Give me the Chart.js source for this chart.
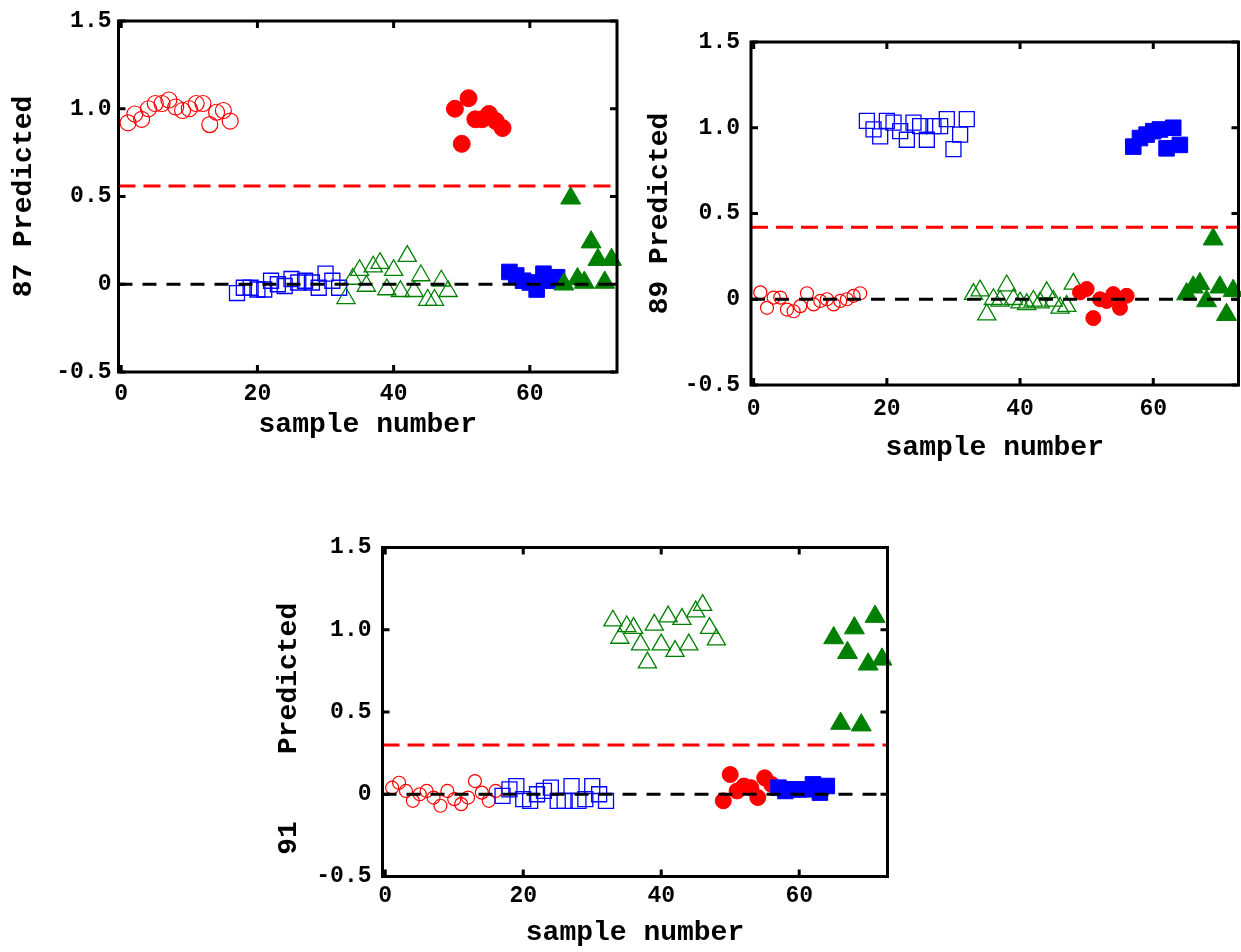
<!DOCTYPE html>
<html>
<head>
<meta charset="utf-8">
<script src="https://cdn.jsdelivr.net/npm/chart.js@4.4.0/dist/chart.umd.min.js"></script>
<style>
html,body{margin:0;padding:0;background:#ffffff;overflow:hidden;width:1241px;height:952px;position:relative;}
canvas{position:absolute;}
</style>
</head>
<body>
<canvas id="c87" width="630" height="445" style="left:0px;top:0px;width:630px;height:445px"></canvas>
<canvas id="c89" width="611" height="470" style="left:640px;top:0px;width:611px;height:470px"></canvas>
<canvas id="c91" width="630" height="432" style="left:270px;top:520px;width:630px;height:432px"></canvas>
<script>
// ---------- axis / tick definitions ----------
const xTicks = [0, 20, 40, 60];
const yTicks = [-0.5, 0, 0.5, 1.0, 1.5];
const xMin = -0.4, xMax = 72.8;
const yMin = -0.5, yMax = 1.5;
const xTitle = 'sample number';
const zeroLine = 0;

// ---------- sample numbers of each group ----------
const samplesRedOpen    = [1,2,3,4,5,6,7,8,9,10,11,12,13,14,15,16];
const samplesBlueOpen   = [17,18,19,20,21,22,23,24,25,26,27,28,29,30,31,32];
const samplesGreenOpen  = [33,34,35,36,37,38,39,40,41,42,43,44,45,46,47,48];
const samplesRedFilled  = [49,50,51,52,53,54,55,56];
const samplesBlueFilled = [57,58,59,60,61,62,63,64];
const samplesGreenFilled= [65,66,67,68,69,70,71,72];

// ---------- chart "87" ----------
const title87 = '87 Predicted';
const threshold87 = 0.56;
const p87RedOpen    = [0.92,0.97,0.94,1.00,1.03,1.03,1.05,1.01,0.99,1.00,1.03,1.03,0.91,0.98,0.99,0.93];
const p87BlueOpen   = [-0.05,-0.02,-0.02,-0.03,-0.03,0.02,0.00,-0.01,0.03,0.01,0.02,0.01,-0.02,0.06,0.02,-0.02];
const p87GreenOpen  = [-0.08,0.03,0.08,-0.01,0.10,0.12,-0.03,0.08,-0.04,0.16,-0.04,0.05,-0.09,-0.09,0.02,-0.04];
const p87RedFilled  = [1.00,0.80,1.06,0.94,0.94,0.97,0.93,0.89];
const p87BlueFilled = [0.07,0.05,0.02,0.01,-0.03,0.06,0.02,0.04];
const p87GreenFilled= [0.00,0.49,0.03,0.01,0.24,0.14,0.01,0.14];

// ---------- chart "89" ----------
const title89 = '89 Predicted';
const threshold89 = 0.42;
const p89RedOpen    = [0.04,-0.05,0.01,0.01,-0.06,-0.07,-0.04,0.035,-0.03,-0.01,0.00,-0.03,-0.01,0.00,0.02,0.035];
const p89BlueOpen   = [1.04,0.99,0.95,1.04,1.03,0.98,0.93,1.03,1.01,0.93,1.01,1.01,1.05,0.875,0.96,1.05];
const p89GreenOpen  = [0.03,0.05,-0.09,0.00,-0.01,0.08,0.00,-0.02,-0.03,-0.01,-0.02,0.04,-0.01,-0.05,-0.04,0.09];
const p89RedFilled  = [0.04,0.06,-0.11,0.00,-0.01,0.03,-0.05,0.02];
const p89BlueFilled = [0.89,0.94,0.96,0.98,0.99,0.88,1.00,0.90];
const p89GreenFilled= [0.03,0.07,0.09,-0.01,0.35,0.07,-0.09,0.05];

// ---------- chart "91" ----------
const title91 = '91    Predicted  ';
const threshold91 = 0.30;
const p91RedOpen    = [0.04,0.07,0.02,-0.04,0.00,0.02,-0.02,-0.07,0.02,-0.03,-0.06,-0.02,0.08,0.01,-0.04,0.02];
const p91BlueOpen   = [-0.01,0.03,0.05,-0.03,-0.04,0.00,0.02,0.04,-0.04,-0.04,0.05,-0.04,-0.03,0.05,0.00,-0.04];
const p91GreenOpen  = [1.055,0.95,1.02,1.01,0.91,0.80,1.03,0.91,1.08,0.87,1.065,0.91,1.11,1.15,1.01,0.94];
const p91RedFilled  = [-0.04,0.12,0.02,0.05,0.04,-0.02,0.10,0.06];
const p91BlueFilled = [0.04,0.02,0.03,0.03,0.03,0.06,0.01,0.05];
const p91GreenFilled= [0.95,0.43,0.86,1.01,0.42,0.79,1.08,0.82];

// ---------- helpers ----------
const RED = '#ff0000', BLUE = '#0000ff', GREEN = '#008000';
const FONT = "'Liberation Mono', 'DejaVu Sans Mono', monospace";

function pts(xs, ys) { return xs.map((x, i) => ({ x: x, y: ys[i] })); }

const framePlugin = {
  id: 'frame',
  afterDraw(chart) {
    const ctx = chart.ctx, a = chart.chartArea;
    const xs = chart.scales.x, ys = chart.scales.y;
    ctx.save();
    ctx.strokeStyle = '#000';
    ctx.lineWidth = 3;
    ctx.strokeRect(a.left, a.top, a.right - a.left, a.bottom - a.top);
    const tl = 7;
    ctx.lineWidth = 3;
    ctx.beginPath();
    xTicks.forEach(v => {
      const px = xs.getPixelForValue(v);
      ctx.moveTo(px, a.bottom); ctx.lineTo(px, a.bottom - tl);
      ctx.moveTo(px, a.top); ctx.lineTo(px, a.top + tl);
    });
    yTicks.forEach(v => {
      const py = ys.getPixelForValue(v);
      ctx.moveTo(a.left, py); ctx.lineTo(a.left + tl, py);
      ctx.moveTo(a.right, py); ctx.lineTo(a.right - tl, py);
    });
    ctx.stroke();
    ctx.restore();
  }
};

function makeChart(id, cfg) {
  const v = cfg.values;
  const g = cfg.geo;
  const datasets = [
    { data: [{x: xMin, y: cfg.threshold}, {x: xMax, y: cfg.threshold}], showLine: true, borderColor: RED, borderWidth: 3, borderDash: [17, 8], pointRadius: 0, order: 0 },
    { data: [{x: xMin, y: zeroLine}, {x: xMax, y: zeroLine}], showLine: true, borderColor: '#000', borderWidth: 3, borderDash: [14, 10], pointRadius: 0, order: 0 },
    { data: pts(samplesRedOpen, v.redOpen), pointStyle: 'circle', pointRadius: g.rCircle, borderColor: RED, backgroundColor: 'rgba(0,0,0,0)', borderWidth: 1.2, order: 10, clip: false },
    { data: pts(samplesBlueOpen, v.blueOpen), pointStyle: 'rect', pointRadius: 10.6, borderColor: BLUE, backgroundColor: 'rgba(0,0,0,0)', borderWidth: 1.3, order: 9, clip: false },
    { data: pts(samplesGreenOpen, v.greenOpen), pointStyle: 'triangle', pointRadius: 10.5, borderColor: GREEN, backgroundColor: 'rgba(0,0,0,0)', borderWidth: 1.3, order: 8, clip: false },
    { data: pts(samplesRedFilled, v.redFilled), pointStyle: 'circle', pointRadius: g.rFilled, borderColor: RED, backgroundColor: RED, borderWidth: 1, order: 7, clip: false },
    { data: pts(samplesBlueFilled, v.blueFilled), pointStyle: 'rect', pointRadius: 11, borderColor: BLUE, backgroundColor: BLUE, borderWidth: 1, order: 6, clip: false },
    { data: pts(samplesGreenFilled, v.greenFilled), pointStyle: 'triangle', pointRadius: 11.5, borderColor: GREEN, backgroundColor: GREEN, borderWidth: 1, order: 5, clip: false }
  ];
  return new Chart(document.getElementById(id), {
    type: 'scatter',
    data: { datasets: datasets },
    plugins: [framePlugin],
    options: {
      responsive: false,
      animation: false,
      events: [],
      layout: { padding: { top: g.padTop, right: g.padRight, left: 0, bottom: 0 } },
      plugins: { legend: { display: false }, tooltip: { enabled: false } },
      scales: {
        x: {
          type: 'linear', min: xMin, max: xMax,
          afterBuildTicks: s => { s.ticks = xTicks.map(t => ({ value: t })); },
          afterFit: s => { s.height = g.axisH; },
          grid: { display: false, drawTicks: false },
          border: { display: false },
          ticks: { color: '#000', padding: g.xTickPad, autoSkip: false, maxRotation: 0,
                   font: { family: FONT, weight: 'bold', size: 23 },
                   callback: t => String(t) },
          title: { display: true, text: xTitle, color: '#000',
                   font: { family: FONT, weight: 'bold', size: 28 },
                   padding: { top: 0, bottom: g.xTitlePad } }
        },
        y: {
          type: 'linear', min: yMin, max: yMax,
          afterBuildTicks: s => { s.ticks = yTicks.map(t => ({ value: t })); },
          afterFit: s => { s.width = g.axisW; },
          grid: { display: false, drawTicks: false },
          border: { display: false },
          ticks: { color: '#000', padding: g.yTickPad, autoSkip: false,
                   font: { family: FONT, weight: 'bold', size: 23 },
                   callback: t => (t === 0 ? '0' : t.toFixed(1)) },
          title: { display: true, text: cfg.title, color: '#000',
                   font: { family: FONT, weight: 'bold', size: 28 },
                   padding: { top: g.yTitlePad, bottom: 0 } }
        }
      }
    }
  });
}

makeChart('c87', {
  title: title87, threshold: threshold87,
  values: { redOpen: p87RedOpen, blueOpen: p87BlueOpen, greenOpen: p87GreenOpen, redFilled: p87RedFilled, blueFilled: p87BlueFilled, greenFilled: p87GreenFilled },
  geo: { axisW: 118.5, axisH: 73, padTop: 21, padRight: 13, xTickPad: 8, yTickPad: 7, xTitlePad: 3, yTitlePad: 7, rCircle: 8, rFilled: 8.5 }
});
makeChart('c89', {
  title: title89, threshold: threshold89,
  values: { redOpen: p89RedOpen, blueOpen: p89BlueOpen, greenOpen: p89GreenOpen, redFilled: p89RedFilled, blueFilled: p89BlueFilled, greenFilled: p89GreenFilled },
  geo: { axisW: 111, axisH: 85, padTop: 42, padRight: 11.5, xTickPad: 10, yTickPad: 11, xTitlePad: 5, yTitlePad: 3, rCircle: 6.5, rFilled: 7.5 }
});
makeChart('c91', {
  title: title91, threshold: threshold91,
  values: { redOpen: p91RedOpen, blueOpen: p91BlueOpen, greenOpen: p91GreenOpen, redFilled: p91RedFilled, blueFilled: p91BlueFilled, greenFilled: p91GreenFilled },
  geo: { axisW: 112.5, axisH: 75.5, padTop: 27.5, padRight: 11.7, xTickPad: 6, yTickPad: 11, xTitlePad: 2, yTitlePad: 2, rCircle: 6.5, rFilled: 8 }
});
</script>
</body>
</html>
